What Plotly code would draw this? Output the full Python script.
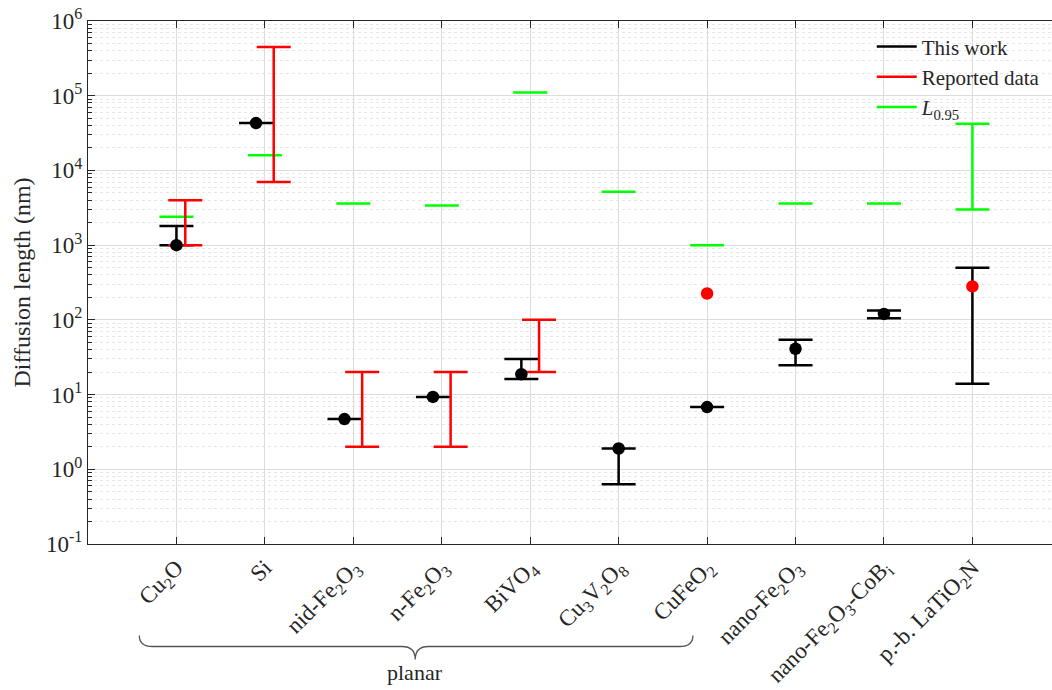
import plotly.graph_objects as go

# ---------------- data ----------------
categories = ["Cu<sub>2</sub>O", "Si", "nid-Fe<sub>2</sub>O<sub>3</sub>", "n-Fe<sub>2</sub>O<sub>3</sub>",
              "BiVO<sub>4</sub>", "Cu<sub>3</sub>V<sub>2</sub>O<sub>8</sub>", "CuFeO<sub>2</sub>",
              "nano-Fe<sub>2</sub>O<sub>3</sub>", "nano-Fe<sub>2</sub>O<sub>3</sub>-CoB<sub>i</sub>",
              "p.-b. LaTiO<sub>2</sub>N"]

# This work
work_value = [1000, 43000, 4.7, 9.3, 18.7, 1.9, 6.8, 41, 120, None]
work_low = [1000, 43000, 4.7, 9.3, 16.2, 0.63, 6.8, 24.6, 105, 14]
work_high = [1800, 43000, 4.7, 9.3, 30, 1.9, 6.8, 54, 133, 500]

# Reported data
reported_low = [1000, 7000, 2, 2, 20, None, None, None, None, None]
reported_high = [4000, 450000, 20, 20, 100, None, None, None, None, None]
reported_value = [None, None, None, None, None, None, 225, None, None, 280]

# L_0.95
l95_low = [2400, 16000, 3600, 3400, 110000, 5200, 1000, 3600, 3600, 3000]
l95_high = [2400, 16000, 3600, 3400, 110000, 5200, 1000, 3600, 3600, 42000]

y_tickvals = [0.1, 1, 10, 100, 1000, 10000, 100000, 1000000]
y_ticktext = ["10<sup>-1</sup>", "10<sup>0</sup>", "10<sup>1</sup>", "10<sup>2</sup>",
              "10<sup>3</sup>", "10<sup>4</sup>", "10<sup>5</sup>", "10<sup>6</sup>"]

# ---------------- layout / positions ----------------
positions = list(range(1, len(categories) + 1))
work_shift = [0, -0.1, -0.1, -0.1, -0.1, 0, 0, 0, 0, 0]
reported_shift = 0.1

FONT = "Liberation Serif, Times New Roman, serif"
BLACK = "#000000"
RED = "#ff0000"
GREEN = "#00ff00"
LW = 2.5
CAP = 17

fig = go.Figure()


def errbar(xs, lo, hi, color):
    idx = [i for i in range(len(lo)) if lo[i] is not None]
    return go.Scatter(
        x=[xs[i] for i in idx],
        y=[lo[i] for i in idx],
        mode="markers",
        marker=dict(size=1, color="rgba(0,0,0,0)"),
        error_y=dict(type="data", symmetric=False,
                     array=[hi[i] - lo[i] for i in idx],
                     arrayminus=[0] * len(idx),
                     color=color, thickness=LW, width=CAP),
        showlegend=False, hoverinfo="skip",
    )


def dots(xs, vals, color):
    idx = [i for i in range(len(vals)) if vals[i] is not None]
    return go.Scatter(
        x=[xs[i] for i in idx], y=[vals[i] for i in idx],
        mode="markers", marker=dict(size=12.5, color=color),
        showlegend=False,
    )


x_work = [p + s for p, s in zip(positions, work_shift)]
x_rep = [p + reported_shift for p in positions]

fig.add_trace(errbar(positions, l95_low, l95_high, GREEN))
fig.add_trace(errbar(x_work, work_low, work_high, BLACK))
fig.add_trace(errbar(x_rep, reported_low, reported_high, RED))
fig.add_trace(dots(x_work, work_value, BLACK))
fig.add_trace(dots(positions, reported_value, RED))

# legend entries
for name, col in [("This work", BLACK), ("Reported data", RED), ("<i>L</i><sub>0.95</sub>", GREEN)]:
    fig.add_trace(go.Scatter(x=[None], y=[None], mode="lines", name=name,
                             line=dict(color=col, width=LW)))

AX = "#262626"
GRID = "#dcdcdc"

minor_vals = [k * 10 ** e for e in range(-1, 6) for k in range(2, 10)]

fig.update_xaxes(
    range=[0, 10.9], tickmode="array", tickvals=positions, ticktext=categories,
    tickangle=-45, ticks="inside", ticklen=7, tickcolor=AX,
    showline=True, linecolor=AX, linewidth=1, mirror="ticks",
    showgrid=True, gridcolor=GRID, gridwidth=1, zeroline=False,
    tickfont=dict(family=FONT, size=23, color=AX),
)
fig.update_yaxes(
    type="log", range=[-1, 6], tickmode="array", tickvals=y_tickvals, ticktext=y_ticktext,
    ticks="inside", ticklen=7, tickcolor=AX,
    showline=True, linecolor=AX, linewidth=1,
    showgrid=True, gridcolor=GRID, gridwidth=1,
    minor=dict(tickmode="array", tickvals=minor_vals, ticks="inside", ticklen=4,
               tickcolor=AX, showgrid=True, gridcolor="#e6e6e6", griddash="dot"),
    tickfont=dict(family=FONT, size=23, color=AX),
    title=dict(text="Diffusion length (nm)", font=dict(family=FONT, size=24, color=AX), standoff=8),
)

# brace under the "planar" group
brace = ("M 0.58,-0.175 Q 0.58,-0.196 0.73,-0.196 L 3.55,-0.196 "
         "Q 3.70,-0.196 3.70,-0.221 Q 3.70,-0.196 3.85,-0.196 "
         "L 6.69,-0.196 Q 6.84,-0.196 6.84,-0.175")
fig.add_shape(type="path", path=brace, xref="x", yref="paper",
              line=dict(color="#555555", width=1.3))
fig.add_annotation(x=3.7, y=-0.246, xref="x", yref="paper", text="planar", showarrow=False,
                   font=dict(family=FONT, size=22, color=AX), yanchor="middle")

fig.update_layout(
    width=1052, height=690,
    margin=dict(l=88, r=0, t=21, b=144),
    paper_bgcolor="white", plot_bgcolor="white",
    legend=dict(x=0.813, y=0.99, xanchor="left", yanchor="top",
                bgcolor="rgba(0,0,0,0)", font=dict(family=FONT, size=21, color=AX),
                itemwidth=40, tracegroupgap=0),
    showlegend=True,
)

fig.write_html("out.html")
